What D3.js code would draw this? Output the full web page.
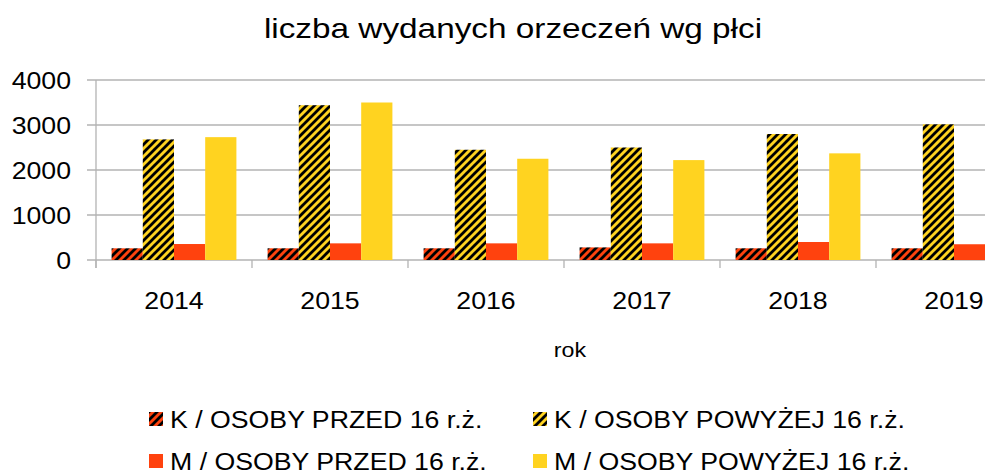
<!DOCTYPE html>
<html>
<head>
<meta charset="utf-8">
<script src="https://cdn.jsdelivr.net/npm/d3@7"></script>
<style>
  html, body { margin: 0; padding: 0; background: #fff; }
  svg { display: block; font-family: "Liberation Sans", Arial, sans-serif; }
</style>
</head>
<body>
<div id="chart"></div>
<script>
// --- data ---
const years = ["2014", "2015", "2016", "2017", "2018", "2019"];
const seriesNames = [
  "K / OSOBY PRZED 16 r.ż.",
  "K / OSOBY POWYŻEJ 16 r.ż.",
  "M / OSOBY PRZED 16 r.ż.",
  "M / OSOBY POWYŻEJ 16 r.ż."
];
const kPrzed   = [260, 260, 260, 280, 260, 260];
const kPowyzej = [2680, 3440, 2450, 2500, 2800, 3015];
const mPrzed   = [355, 370, 370, 370, 400, 350];
const mPowyzej = [2730, 3500, 2250, 2220, 2370, null]; // 2019 lies outside the frame
const yTicks = [0, 1000, 2000, 3000, 4000];

const seriesValues = [kPrzed, kPowyzej, mPrzed, mPowyzej];
const seriesFill = ["url(#hatchRed)", "url(#hatchYellow)", "#ff420e", "#ffd320"];

const W = 985, H = 476;
const STRETCH = 1.16; // the text in the picture is drawn a bit wider than normal

const svg = d3.select("#chart").append("svg")
  .attr("width", W).attr("height", H);

// hatch patterns (black diagonal stripes over the base colour)
const defs = svg.append("defs");
function hatch(id, base) {
  const s = 8;
  const p = defs.append("pattern")
    .attr("id", id)
    .attr("patternUnits", "userSpaceOnUse")
    .attr("width", s).attr("height", s);
  p.append("rect").attr("width", s).attr("height", s).attr("fill", base);
  p.append("path")
    .attr("d", `M-2,2 l4,-4 M0,${s} l${s},-${s} M${s - 2},${s + 2} l4,-4`)
    .attr("stroke", "#000").attr("stroke-width", 2.8);
}
hatch("hatchRed", "#ff420e");
hatch("hatchYellow", "#ffd320");

// widen a text selection to match the picture
function widen(sel, k) {
  sel.each(function () {
    const len = this.getComputedTextLength();
    d3.select(this).attr("textLength", len * (k || STRETCH)).attr("lengthAdjust", "spacingAndGlyphs");
  });
}

// scales
const plotLeft = 96, groupStep = 156, plotTop = 80, plotBottom = 260;
const x0 = d3.scaleBand().domain(years)
  .range([plotLeft, plotLeft + groupStep * years.length])
  .paddingInner(0).paddingOuter(0);
const x1 = d3.scaleBand().domain(d3.range(seriesNames.length))
  .range([0, x0.bandwidth()])
  .paddingInner(0).paddingOuter(0.5);
const y = d3.scaleLinear().domain([0, 4000]).range([plotBottom, plotTop]);

// gridlines
svg.append("g").selectAll("line")
  .data(yTicks)
  .join("line")
  .attr("x1", plotLeft - 9).attr("x2", x0.range()[1])
  .attr("y1", d => y(d)).attr("y2", d => y(d))
  .attr("stroke", "#b3b3b3").attr("stroke-width", 1.3);

// y axis
const yAxis = svg.append("g")
  .attr("transform", `translate(${plotLeft},0)`)
  .call(d3.axisLeft(y).tickValues(yTicks).tickFormat(d3.format("d")).tickSize(9).tickPadding(16));
yAxis.select(".domain").attr("stroke", "#b3b3b3").attr("stroke-width", 1.3)
  .attr("d", `M0,${plotTop}V${plotBottom + 8}`);
yAxis.selectAll(".tick line").attr("stroke", "none");
yAxis.selectAll("text")
  .attr("font-size", 23).attr("fill", "#000")
  .attr("font-family", "Liberation Sans, Arial, sans-serif")
  .attr("dy", "0.36em")
  .call(widen);

// x axis tick marks at group boundaries
svg.append("g").selectAll("line")
  .data(years)
  .join("line")
  .attr("x1", d => x0(d)).attr("x2", d => x0(d))
  .attr("y1", plotBottom).attr("y2", plotBottom + 8)
  .attr("stroke", "#b3b3b3").attr("stroke-width", 1.3);

// bars
const groups = svg.append("g").selectAll("g")
  .data(years)
  .join("g")
  .attr("transform", d => `translate(${x0(d)},0)`);

groups.selectAll("rect")
  .data((yr, i) => seriesValues.map((vals, s) => ({ s, v: vals[i] })).filter(d => d.v != null))
  .join("rect")
  .attr("x", d => x1(d.s))
  .attr("width", x1.bandwidth())
  .attr("y", d => y(d.v))
  .attr("height", d => y(0) - y(d.v))
  .attr("fill", d => seriesFill[d.s]);

// x labels
const xAxis = svg.append("g")
  .attr("transform", `translate(0,${plotBottom})`)
  .call(d3.axisBottom(x0).tickSize(0).tickPadding(0));
xAxis.select(".domain").remove();
xAxis.selectAll("text")
  .attr("font-size", 23).attr("fill", "#000")
  .attr("font-family", "Liberation Sans, Arial, sans-serif")
  .attr("dy", null).attr("y", 49)
  .call(widen);

// title
svg.append("text")
  .attr("x", 513).attr("y", 38)
  .attr("text-anchor", "middle")
  .attr("font-size", 28)
  .text("liczba wydanych orzeczeń wg płci")
  .call(widen, 1.19);

// axis title
svg.append("text")
  .attr("x", 570).attr("y", 357)
  .attr("text-anchor", "middle")
  .attr("font-size", 20)
  .text("rok")
  .call(widen);

// legend (two columns, two rows)
const legendPos = [[149, 412], [533, 412], [149, 454], [533, 454]];
const legend = svg.append("g").selectAll("g")
  .data(seriesNames)
  .join("g")
  .attr("transform", (d, i) => `translate(${legendPos[i][0]},${legendPos[i][1]})`);
legend.append("rect")
  .attr("width", 14).attr("height", 14)
  .attr("fill", (d, i) => seriesFill[i]);
legend.append("text")
  .attr("x", 21).attr("y", 16)
  .attr("font-size", 23)
  .text(d => d)
  .call(widen);
</script>
</body>
</html>
